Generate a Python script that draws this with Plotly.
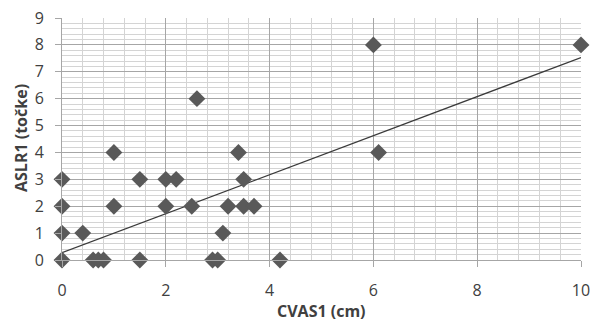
import plotly.graph_objects as go

cvas1 = [0, 0, 0, 0, 0.4, 0.6, 0.7, 0.8, 1, 1, 1.5, 1.5, 2, 2, 2.2, 2.5, 2.6,
         2.9, 3.0, 3.1, 3.2, 3.4, 3.5, 3.5, 3.7, 4.2, 6, 6.1, 10]
aslr1 = [0, 1, 2, 3, 1, 0, 0, 0, 4, 2, 3, 0, 3, 2, 3, 2, 6,
         0, 0, 1, 2, 4, 3, 2, 2, 0, 8, 4, 8]

trend_intercept = 0.27
trend_slope = 0.726
trend_x = [0, 10]
trend_y = [trend_intercept + trend_slope * x for x in trend_x]

x_ticks = [0, 2, 4, 6, 8, 10]
y_ticks = list(range(0, 10))
x_title = "CVAS1 (cm)"
y_title = "ASLR1 (točke)"

font_family = "Open Sans, Lato, sans-serif"
text_color = "#404040"

fig = go.Figure()
fig.add_trace(go.Scatter(x=trend_x, y=trend_y, mode="lines",
                         line=dict(color="#3a3a3a", width=1.2),
                         hoverinfo="skip", showlegend=False))
fig.add_trace(go.Scatter(x=cvas1, y=aslr1, mode="markers",
                         marker=dict(symbol="diamond", size=13, color="#595959"),
                         showlegend=False, cliponaxis=False))

L, R, T, B = 62, 9, 18, 62
W, H = 590, 322
pw = W - L - R
ph = H - T - B

fig.update_layout(
    width=W, height=H,
    margin=dict(l=L, r=R, t=T, b=B, autoexpand=False),
    paper_bgcolor="white", plot_bgcolor="white",
    font=dict(family=font_family, size=16, color=text_color),
)
fig.update_xaxes(
    range=[0, 10], tickvals=x_ticks, showgrid=True, gridcolor="#a6a6a6", gridwidth=1,
    minor=dict(dtick=0.4, tick0=0, showgrid=True, gridcolor="#d4d4d4", gridwidth=1),
    ticks="outside", ticklen=6, tickcolor="#a6a6a6", ticklabelstandoff=10,
    ticklabeloverflow="allow",
    showline=True, linecolor="#a6a6a6", zeroline=False, automargin=False,
)
fig.update_yaxes(
    range=[0, 9], tickvals=y_ticks, showgrid=True, gridcolor="#a6a6a6", gridwidth=1,
    minor=dict(dtick=0.2, tick0=0, showgrid=True, gridcolor="#d4d4d4", gridwidth=1),
    ticks="outside", ticklen=6, tickcolor="#a6a6a6", ticklabelstandoff=8,
    ticklabeloverflow="allow",
    showline=True, linecolor="#a6a6a6", zeroline=False, automargin=False,
)
fig.add_annotation(text="<b>" + x_title + "</b>", xref="paper", yref="paper",
                   x=(321 - L) / pw, y=-(311 - (T + ph)) / ph,
                   xanchor="center", yanchor="middle", showarrow=False,
                   font=dict(size=16, color=text_color))
fig.add_annotation(text="<b>" + y_title + "</b>", xref="paper", yref="paper",
                   x=(21 - L) / pw, y=1 - (138 - T) / ph, textangle=-90,
                   xanchor="center", yanchor="middle", showarrow=False,
                   font=dict(size=16, color=text_color))
fig.write_html("out.html", config={"displayModeBar": False},
               post_script="document.body.style.margin='0';document.body.style.overflow='hidden';")
